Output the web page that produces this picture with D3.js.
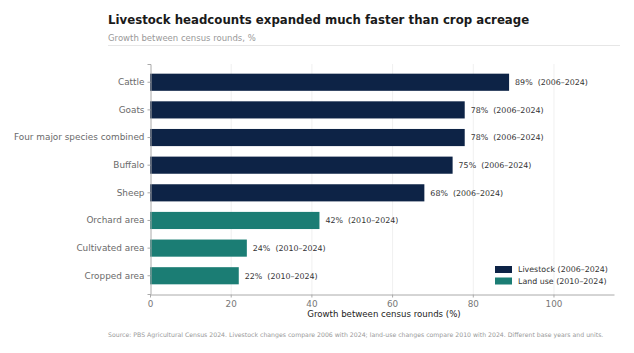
<!DOCTYPE html>
<html>
<head>
<meta charset="utf-8">
<script src="https://cdn.jsdelivr.net/npm/d3@7"></script>
<style>
  body { margin: 0; background: #fff; }
  text { font-family: "DejaVu Sans", sans-serif; }
</style>
</head>
<body>
<div id="vizArea"></div>
<script>
// data
var categories = ["Cattle", "Goats", "Four major species combined", "Buffalo", "Sheep", "Orchard area", "Cultivated area", "Cropped area"];
var growth = [89, 78, 78, 75, 68, 42, 24, 22];
var periods = ["2006–2024", "2006–2024", "2006–2024", "2006–2024", "2006–2024", "2010–2024", "2010–2024", "2010–2024"];
var groups = ["Livestock", "Livestock", "Livestock", "Livestock", "Livestock", "Land use", "Land use", "Land use"];
var legendLabels = ["Livestock (2006–2024)", "Land use (2010–2024)"];
var xTicks = [0, 20, 40, 60, 80, 100];

var colors = { "Livestock": "#0d2346", "Land use": "#1b7d74" };

var W = 634, H = 353;
var m = { left: 150, right: 20, top: 64, bottom: 59 };

var canvas = d3.select("#vizArea")
  .append("svg")
    .attr("width", W)
    .attr("height", H);

canvas.append("rect")
  .attr("width", W).attr("height", H).attr("fill", "white");

// title block
canvas.append("text")
  .attr("x", 108).attr("y", 24)
  .attr("font-size", 11.75).attr("font-weight", "bold").attr("fill", "#1a1a1a")
  .text("Livestock headcounts expanded much faster than crop acreage");
canvas.append("text")
  .attr("x", 108).attr("y", 41)
  .attr("font-size", 8.5).attr("fill", "#999")
  .text("Growth between census rounds, %");
canvas.append("line")
  .attr("x1", 108).attr("x2", 620).attr("y1", 45.5).attr("y2", 45.5)
  .attr("stroke", "#e6e6e6").attr("stroke-width", 1);

var x = d3.scaleLinear().domain([0, 115]).range([m.left, W - m.right]);
var y = d3.scaleBand().domain(categories).range([m.top, H - m.bottom])
  .paddingInner(0.38).paddingOuter(0.35);

// gridlines
canvas.append("g").selectAll("line")
  .data(xTicks.slice(1))
  .enter().append("line")
    .attr("x1", function (d) { return x(d) + 0.5; })
    .attr("x2", function (d) { return x(d) + 0.5; })
    .attr("y1", m.top).attr("y2", H - m.bottom)
    .attr("stroke", "#ececec").attr("stroke-width", 0.8);

// bars
canvas.append("g").selectAll("rect")
  .data(categories)
  .enter().append("rect")
    .attr("x", x(0))
    .attr("y", function (d) { return y(d); })
    .attr("width", function (d, i) { return x(growth[i]) - x(0); })
    .attr("height", y.bandwidth())
    .attr("fill", function (d, i) { return colors[groups[i]]; });

// value labels
canvas.append("g").selectAll("text")
  .data(categories)
  .enter().append("text")
    .attr("x", function (d, i) { return x(growth[i]) + 6; })
    .attr("y", function (d) { return y(d) + y.bandwidth() / 2; })
    .attr("dy", "0.35em")
    .attr("font-size", 7.9).attr("fill", "#333")
    .style("white-space", "pre")
    .text(function (d, i) { return growth[i] + "%  (" + periods[i] + ")"; });

// y axis
var yAxis = canvas.append("g")
  .attr("transform", "translate(" + (m.left + 0.5) + ",0)")
  .call(d3.axisLeft(y).tickSize(3).tickPadding(3));
yAxis.select(".domain").attr("stroke", "#aaa");
yAxis.selectAll(".tick line").attr("stroke", "#aaa");
yAxis.selectAll(".tick text").attr("font-size", 8.9).attr("fill", "#6a6a6a")
  .style("font-family", "DejaVu Sans, sans-serif");

// x axis
var xAxis = canvas.append("g")
  .attr("transform", "translate(0," + (H - m.bottom + 0.5) + ")")
  .call(d3.axisBottom(x).tickValues(xTicks).tickSize(3).tickPadding(3).tickSizeOuter(0));
xAxis.select(".domain").attr("stroke", "#aaa");
xAxis.selectAll(".tick text").attr("font-size", 8.8).attr("fill", "#777")
  .style("font-family", "DejaVu Sans, sans-serif");
xAxis.selectAll(".tick line").attr("stroke", "#aaa");

canvas.append("text")
  .attr("x", x(58)).attr("y", 317)
  .attr("text-anchor", "middle")
  .attr("font-size", 8.6).attr("fill", "#222")
  .text("Growth between census rounds (%)");

// legend
var legend = canvas.append("g").attr("transform", "translate(495,266)");
legendLabels.forEach(function (lab, i) {
  legend.append("rect")
    .attr("x", 0).attr("y", i * 11.5)
    .attr("width", 17).attr("height", 7)
    .attr("fill", colors[Object.keys(colors)[i]]);
  legend.append("text")
    .attr("x", 23).attr("y", i * 11.5 + 3.5)
    .attr("dy", "0.35em")
    .attr("font-size", 7.9).attr("fill", "#333")
    .text(lab);
});

// source
canvas.append("text")
  .attr("x", 108).attr("y", 337)
  .attr("font-size", 6.2).attr("fill", "#999")
  .text("Source: PBS Agricultural Census 2024. Livestock changes compare 2006 with 2024; land-use changes compare 2010 with 2024. Different base years and units.");
</script>
</body>
</html>
